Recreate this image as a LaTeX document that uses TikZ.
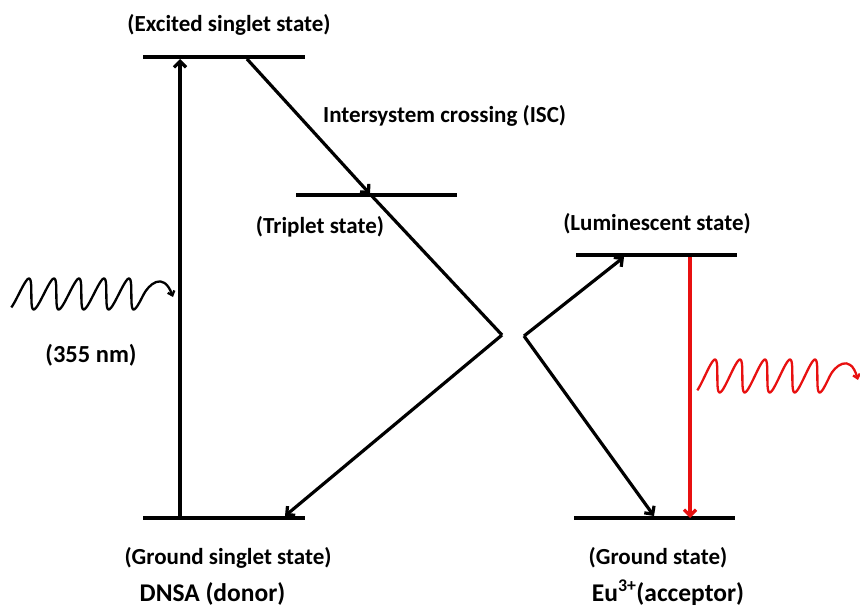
\documentclass[tikz,border=0pt]{standalone}
\usepackage{fontspec}
\setmainfont{Carlito}
\usetikzlibrary{arrows.meta}
\begin{document}
\begin{tikzpicture}[x=1pt,y=-1pt,
  level/.style={line width=4.5pt},
  trans/.style={line width=3.2pt,-{Straight Barb[length=6pt,width=12pt]}},
  plain/.style={line width=3.2pt},
  wave/.style={line width=2.3pt,line join=round,-{Straight Barb[length=4pt,width=7pt]}},
  lbl/.style={font=\fontsize{23}{26}\selectfont\bfseries,inner sep=0pt,anchor=base},
  big/.style={font=\fontsize{25.5}{29}\selectfont\bfseries,inner sep=0pt,anchor=base}]
\definecolor{emred}{RGB}{232,16,16}
\useasboundingbox (0,0) rectangle (860,610);
% level endpoints
\coordinate (esL) at (143,57);  \coordinate (esR) at (305,57);
\coordinate (tsL) at (296,195); \coordinate (tsR) at (457,195);
\coordinate (gsL) at (143,518); \coordinate (gsR) at (305,518);
\coordinate (lsL) at (576,255); \coordinate (lsR) at (737,255);
\coordinate (grL) at (574,518); \coordinate (grR) at (735,518);
% transition points
\coordinate (absB) at (180,518); \coordinate (absT) at (180,59);
\coordinate (iscA) at (247,59);  \coordinate (iscB) at (370,194);
\coordinate (vL) at (502,335);   \coordinate (gsHit) at (285,516);
\coordinate (vR) at (524,336);   \coordinate (lsHit) at (624,257);
\coordinate (grHit) at (654,516);
\coordinate (emT) at (690,257);  \coordinate (emB) at (690,518);
\coordinate (w1end) at (173,297);
\coordinate (w2end) at (858,380);
% levels
\draw[level] (esL) -- (esR);
\draw[level] (tsL) -- (tsR);
\draw[level] (gsL) -- (gsR);
\draw[level] (lsL) -- (lsR);
\draw[level] (grL) -- (grR);
% transitions
\draw[trans] (absB) -- (absT);
\draw[trans] (iscA) -- (iscB);
\draw[plain] (iscB) -- (vL);
\draw[trans] (vL) -- (gsHit);
\draw[trans] (vR) -- (lsHit);
\draw[trans] (vR) -- (grHit);
\draw[trans,emred] (emT) -- (emB);
% waves
\draw[wave] plot[domain=30:1890,samples=250,smooth] ({12.6+(\x/360)*25-3.9*cos(\x)},{294+15.5*cos(\x)})
  .. controls (148,286) and (163,270) .. (w1end);
\draw[wave,emred] plot[domain=30:1890,samples=250,smooth] ({698.6+(\x/360)*25-3.9*cos(\x)},{376+16.5*cos(\x)})
  .. controls (834,367) and (850,352) .. (w2end);
% labels
\node[lbl] (lexc) at (229,32) {(Excited singlet state)};
\node[lbl,anchor=base west] (lisc) at (323,122) {Intersystem crossing (ISC)};
\node[lbl] (ltri) at (320,233) {(Triplet state)};
\node[lbl] (llum) at (657,230) {(Luminescent state)};
\node[lbl,font=\fontsize{24.5}{28}\selectfont\bfseries] (lnm) at (91,362) {(355 nm)};
\node[lbl] (lgss) at (228,564) {(Ground singlet state)};
\node[lbl] (lgs) at (658,564) {(Ground state)};
\node[big] (ldon) at (212.5,601) {DNSA (donor)};
\node[big] (lacc) at (668,601) {Eu\textsuperscript{3+}(acceptor)};
\end{tikzpicture}
\end{document}
